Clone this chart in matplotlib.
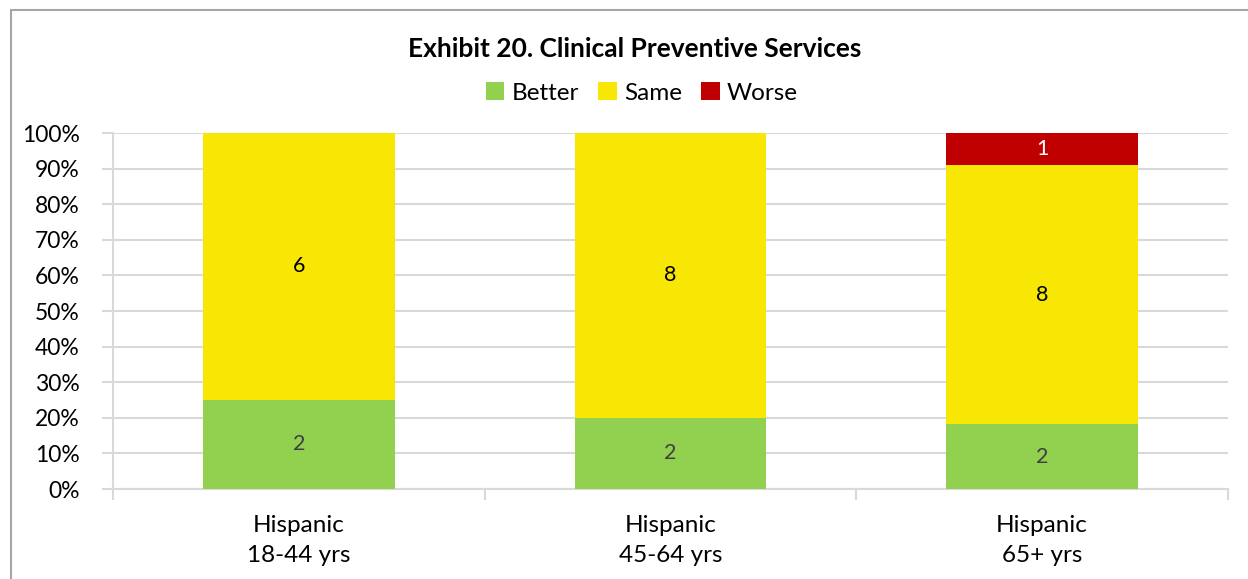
import matplotlib.pyplot as plt
from matplotlib.patches import Rectangle
from matplotlib.ticker import PercentFormatter

plt.rcParams["font.family"] = ["Lato", "DejaVu Sans"]

categories = ["Hispanic\n18-44 yrs", "Hispanic\n45-64 yrs", "Hispanic\n65+ yrs"]
better = [2, 2, 2]
same = [6, 8, 8]
worse = [0, 0, 1]

series = [
    ("Better", better, "#92d050", "#404040"),
    ("Same", same, "#f8e604", "black"),
    ("Worse", worse, "#c00000", "white"),
]

fig = plt.figure(figsize=(12.48, 5.79), dpi=100)
ax = fig.add_axes([113 / 1248, 1 - 489 / 579, 1115 / 1248, 356 / 579])

# outer chart border (only top and left visible in the reference)
fig.patches.append(Rectangle((11 / 1248, -0.1), 1.2, 1 - 10 / 579 + 0.1,
                             transform=fig.transFigure, fill=False,
                             edgecolor="#a6a6a6", linewidth=1.5))

totals = [b + s + w for b, s, w in zip(better, same, worse)]
x = range(len(categories))
bottom = [0.0] * len(categories)
for name, vals, color, txtcolor in series:
    pct = [v / t * 100 for v, t in zip(vals, totals)]
    bars = ax.bar(x, pct, width=0.515, bottom=bottom, color=color, label=name,
                  zorder=3)
    for i, (rect, v) in enumerate(zip(bars, vals)):
        if v > 0:
            ax.text(rect.get_x() + rect.get_width() / 2, bottom[i] + pct[i] / 2,
                    str(v), ha="center", va="center", fontsize=15.5,
                    color=txtcolor, zorder=4)
    bottom = [b + p for b, p in zip(bottom, pct)]

ax.set_xlim(-0.5, len(categories) - 0.5)
ax.set_ylim(0, 100)
ax.set_yticks(range(0, 101, 10))
ax.yaxis.set_major_formatter(PercentFormatter(decimals=0))
ax.set_xticks([i - 0.5 for i in range(len(categories) + 1)], minor=False)
ax.set_xticklabels([])
ax.set_xticks(list(x), minor=True)
ax.set_xticklabels(categories, minor=True, fontsize=17.5, linespacing=1.5)
ax.tick_params(axis="x", which="major", length=8, color="#d9d9d9", width=1.5)
ax.tick_params(axis="x", which="minor", length=0, pad=19)
ax.tick_params(axis="y", length=8, color="#d9d9d9", width=1.5, labelsize=16.5, pad=16)

ax.grid(axis="y", color="#d9d9d9", linewidth=1.5, zorder=0)
for side in ["top", "right"]:
    ax.spines[side].set_visible(False)
ax.spines["left"].set_color("#d9d9d9")
ax.spines["left"].set_linewidth(1.5)
ax.spines["bottom"].set_color("#d9d9d9")
ax.spines["bottom"].set_linewidth(1.5)

fig.text(635 / 1248, 1 - 49 / 579, "Exhibit 20. Clinical Preventive Services",
         ha="center", va="center", fontsize=19, fontweight="bold")
fig.legend(loc="center", bbox_to_anchor=(642 / 1248, 1 - 93 / 579), ncol=3,
           frameon=False, fontsize=17.5, handlelength=0.75, handleheight=0.75,
           handletextpad=0.3, columnspacing=0.8)

fig.savefig("out.png", dpi=100)
